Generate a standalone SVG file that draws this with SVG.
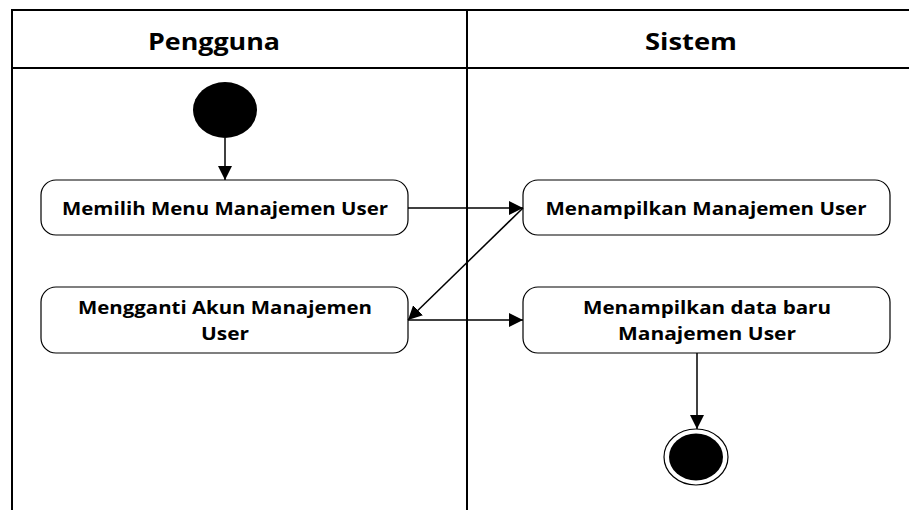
<svg xmlns="http://www.w3.org/2000/svg" width="909" height="510" viewBox="0 0 909 510">
  <style>
    .lane { fill: none; stroke: #000; stroke-width: 2; }
    .head { font-family: "Open Sans", "Liberation Sans", sans-serif; font-weight: 700; font-size: 24px; fill: #000; text-anchor: middle; }
    .act rect { fill: #fff; stroke: #000; stroke-width: 1.2; }
    .act text { font-family: "Open Sans", "Liberation Sans", sans-serif; font-weight: 700; font-size: 18.5px; fill: #000; text-anchor: middle; }
    .flow { fill: none; stroke: #000; stroke-width: 1.5; marker-end: url(#arrow); }
  </style>
  <defs>
    <marker id="arrow" viewBox="0 0 10 10" refX="10" refY="5" markerWidth="14" markerHeight="14" markerUnits="userSpaceOnUse" orient="auto">
      <path d="M0,0 L10,5 L0,10 Z" fill="#000"/>
    </marker>
  </defs>

  <rect width="909" height="510" fill="#fff"/>

  <!-- swimlane frame -->
  <g id="lanes">
    <path class="lane" d="M909,10 H12 V510"/>
    <path class="lane" d="M12,68 H909"/>
    <path class="lane" d="M467,10 V510"/>
    <text class="head" x="214" y="50" textLength="132" lengthAdjust="spacingAndGlyphs">Pengguna</text>
    <text class="head" x="691" y="50" textLength="92" lengthAdjust="spacingAndGlyphs">Sistem</text>
  </g>

  <g id="start">
    <ellipse cx="225" cy="110" rx="32" ry="28" fill="#000"/>
  </g>

  <g id="memilih" class="act">
    <rect x="41" y="180" width="367" height="55" rx="15"/>
    <text x="225" y="215" textLength="326" lengthAdjust="spacingAndGlyphs">Memilih Menu Manajemen User</text>
  </g>

  <g id="menampilkan" class="act">
    <rect x="523" y="180" width="367" height="55" rx="15"/>
    <text x="706" y="215" textLength="321" lengthAdjust="spacingAndGlyphs">Menampilkan Manajemen User</text>
  </g>

  <g id="mengganti" class="act">
    <rect x="41" y="287" width="367" height="66" rx="15"/>
    <text x="225" y="314" textLength="294" lengthAdjust="spacingAndGlyphs">Mengganti Akun Manajemen</text>
    <text x="225" y="340" textLength="48" lengthAdjust="spacingAndGlyphs">User</text>
  </g>

  <g id="data-baru" class="act">
    <rect x="523" y="287" width="367" height="66" rx="15"/>
    <text x="707" y="314" textLength="248" lengthAdjust="spacingAndGlyphs">Menampilkan data baru</text>
    <text x="707" y="340" textLength="178" lengthAdjust="spacingAndGlyphs">Manajemen User</text>
  </g>

  <g id="end">
    <ellipse cx="696" cy="457" rx="32" ry="28" fill="#fff" stroke="#000" stroke-width="1.2"/>
    <ellipse cx="696" cy="457" rx="27" ry="23.5" fill="#000"/>
  </g>

  <g id="connectors">
    <path class="flow" d="M225,138 V180"/>
    <path class="flow" d="M408,208 H523"/>
    <path class="flow" d="M523,208 L408,320"/>
    <path class="flow" d="M408,320 H523"/>
    <path class="flow" d="M697,353 V429"/>
  </g>
</svg>
